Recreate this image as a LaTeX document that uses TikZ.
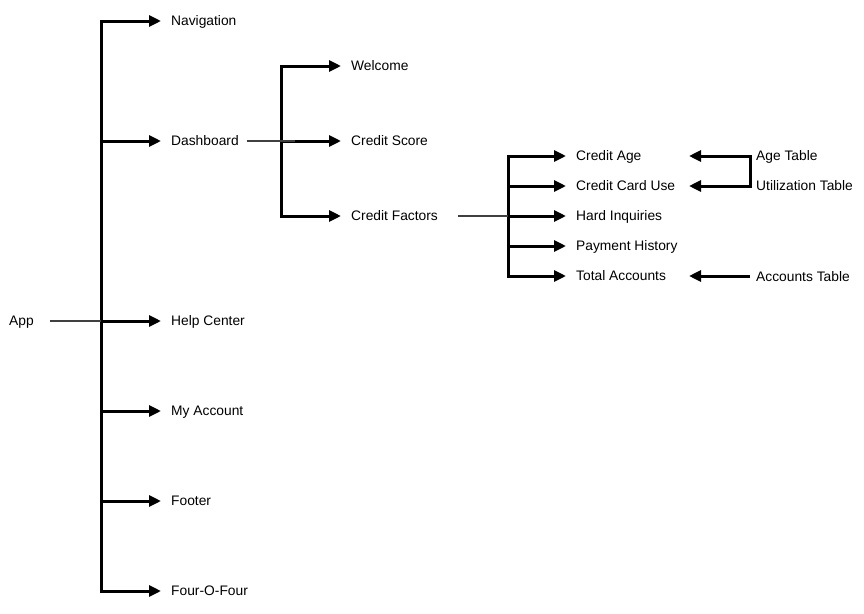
\documentclass[tikz,border=0pt]{standalone}
\usepackage{fontspec}
\setmainfont{Liberation Sans}
\usetikzlibrary{arrows.meta}
\begin{document}
\begin{tikzpicture}[x=1pt,y=-1pt,
  lbl/.style={anchor=west,inner sep=0pt,text height=8.9pt,text depth=0pt,font=\fontsize{13.8}{15}\selectfont},
  main/.style={line width=3pt,line cap=rect},
  arr/.style={line width=3pt,-{Triangle[length=12pt,width=11pt]},shorten >=10pt},
  arrto/.style={line width=3pt,-{Triangle[length=12pt,width=11pt]}},
  feed/.style={line width=2.5pt,draw=black!75}]
\useasboundingbox (0,0) rectangle (864,613);
% level 1
\node[lbl] (app) at (9,321) {App};
\node[lbl] (nav) at (171,21) {Navigation};
\node[lbl] (dash) at (171,141) {Dashboard};
\node[lbl] (help) at (171,321) {Help Center};
\node[lbl] (acct) at (171,411) {My Account};
\node[lbl] (foot) at (171,501) {Footer};
\node[lbl] (fof) at (171,591) {Four-O-Four};
\coordinate (t1) at (101,0);
\draw[main] (t1 |- nav) -- (t1 |- fof);
\foreach \n in {nav,dash,help,acct,foot,fof} \draw[arr] (t1 |- \n) -- (\n.west);
\draw[feed] ([xshift=16pt]app.east) -- (t1 |- app);
% level 2
\node[lbl] (wel) at (351,66) {Welcome};
\node[lbl] (cs) at (351,141) {Credit Score};
\node[lbl] (cf) at (351,216) {Credit Factors};
\coordinate (t2) at (281,0);
\draw[main] (t2 |- wel) -- (t2 |- cf);
\foreach \n in {wel,cs,cf} \draw[arr] (t2 |- \n) -- (\n.west);
\draw[feed] ([xshift=8pt]dash.east) -- ([xshift=14pt]t2 |- dash);
% level 3
\node[lbl] (ca) at (576,156) {Credit Age};
\node[lbl] (ccu) at (576,186) {Credit Card Use};
\node[lbl] (hi) at (576,216) {Hard Inquiries};
\node[lbl] (ph) at (576,246) {Payment History};
\node[lbl] (ta) at (576,276) {Total Accounts};
\coordinate (t3) at (508,0);
\draw[main] (t3 |- ca) -- (t3 |- ta);
\foreach \n in {ca,ccu,hi,ph,ta} \draw[arr] (t3 |- \n) -- (\n.west);
\draw[feed] ([xshift=20pt]cf.east) -- (t3 |- cf);
% tables
\node[lbl] (at) at (756,156) {Age Table};
\node[lbl] (ut) at (756,186) {Utilization Table};
\node[lbl] (act) at (756,277) {Accounts Table};
\coordinate (b) at (750,0);
\coordinate (tip) at (689,0);
\draw[line width=3pt] (b |- at) -- (b |- ut);
\draw[arrto] ([xshift=1.5pt]b |- at) -- (tip |- ca);
\draw[arrto] ([xshift=1.5pt]b |- ut) -- (tip |- ccu);
\draw[arrto] (b |- ta) -- (tip |- ta);
\end{tikzpicture}
\end{document}
